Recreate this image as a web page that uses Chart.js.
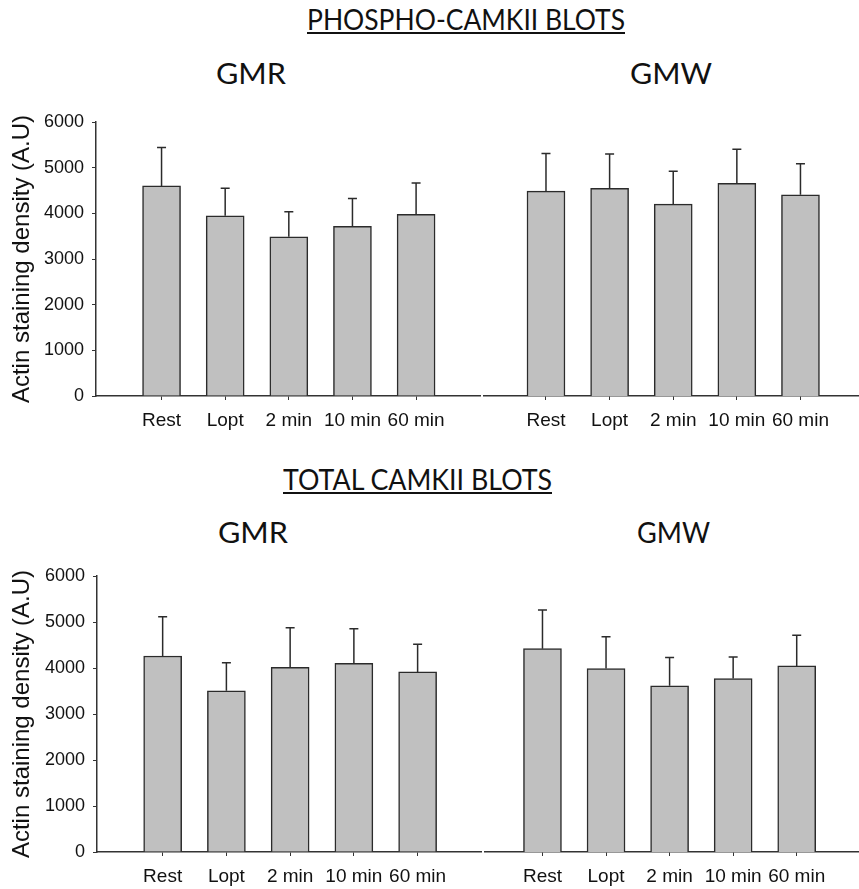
<!DOCTYPE html>
<html>
<head>
<meta charset="utf-8">
<script src="https://cdn.jsdelivr.net/npm/chart.js@4.4.1/dist/chart.umd.min.js"></script>
<style>
  html, body { margin:0; padding:0; background:#fff; width:859px; height:889px; overflow:hidden; }
  .box { position:absolute; }
  .ttl { position:absolute; white-space:nowrap; font-family:Lato, 'Open Sans', sans-serif; color:#111;
         line-height:1; transform-origin:0 0; }
  .ul { text-decoration:underline; text-decoration-thickness:2px; text-underline-offset:2px; }
</style>
</head>
<body>
<div class="ttl ul" data-w="318" style="left:307px;top:5px;font-size:28px">PHOSPHO-CAMKII BLOTS</div>
<div class="ttl" data-w="70" style="left:216px;top:58px;font-size:29px">GMR</div>
<div class="ttl" data-w="82" style="left:630px;top:58px;font-size:29px">GMW</div>
<div class="ttl ul" data-w="269" style="left:283px;top:465px;font-size:28px">TOTAL CAMKII BLOTS</div>
<div class="ttl" data-w="70" style="left:218px;top:517px;font-size:29px">GMR</div>
<div class="ttl" data-w="73" style="left:637px;top:517px;font-size:29px">GMW</div>

<div class="box" style="left:0;top:100px"><canvas id="phosGMR" width="481" height="336"></canvas></div>
<div class="box" style="left:483px;top:100px"><canvas id="phosGMW" width="376" height="336"></canvas></div>
<div class="box" style="left:0;top:554px"><canvas id="totGMR" width="482" height="335"></canvas></div>
<div class="box" style="left:484px;top:554px"><canvas id="totGMW" width="375" height="335"></canvas></div>

<script>
// categories and values (mean and upper SEM)
const categories = ['Rest', 'Lopt', '2 min', '10 min', '60 min'];
const yTicks = [0, 1000, 2000, 3000, 4000, 5000, 6000];

const phosGMR = [4600, 3945, 3485, 3715, 3980];
const phosGMRsem = [840, 605, 550, 610, 685];
const phosGMW = [4485, 4550, 4200, 4655, 4405];
const phosGMWsem = [825, 750, 720, 750, 680];

const totGMR = [4260, 3505, 4015, 4100, 3915];
const totGMRsem = [855, 610, 860, 755, 600];
const totGMW = [4420, 3990, 3615, 3770, 4045];
const totGMWsem = [840, 690, 615, 470, 665];

// fit the headings to the width they have in the figure
document.querySelectorAll('.ttl').forEach(el => {
  const w = el.getBoundingClientRect().width;
  el.style.transform = 'scaleX(' + (Number(el.dataset.w) / w) + ')';
});

// upper error bars with a small cap
const errorBars = {
  id: 'errorBars',
  afterDatasetsDraw(chart) {
    const ctx = chart.ctx;
    const y = chart.scales.y;
    chart.data.datasets.forEach((ds, di) => {
      chart.getDatasetMeta(di).data.forEach((bar, i) => {
        const top = y.getPixelForValue(ds.data[i].y + ds.sem[i]);
        ctx.save();
        ctx.strokeStyle = '#2b2b2b';
        ctx.lineWidth = 1.5;
        ctx.beginPath();
        ctx.moveTo(bar.x, bar.y);
        ctx.lineTo(bar.x, top);
        ctx.moveTo(bar.x - 4.5, top);
        ctx.lineTo(bar.x + 4.5, top);
        ctx.stroke();
        ctx.restore();
      });
    });
  }
};

function makeChart(id, values, sem, opt) {
  const ctx = document.getElementById(id).getContext('2d');
  return new Chart(ctx, {
    type: 'bar',
    data: {
      datasets: [{
        data: values.map((v, i) => ({ x: i, y: v })),
        sem: sem,
        backgroundColor: '#c0c0c0',
        borderColor: '#2b2b2b',
        borderWidth: 1.5,
        barThickness: 38
      }]
    },
    options: {
      responsive: false,
      animation: false,
      layout: { padding: { top: 22, left: 0, right: 0, bottom: 0 } },
      plugins: { legend: { display: false }, tooltip: { enabled: false } },
      scales: {
        x: {
          type: 'linear',
          offset: false,
          min: opt.xMin,
          max: opt.xMax,
          afterBuildTicks: s => { s.ticks = categories.map((c, i) => ({ value: i })); },
          afterFit: s => { s.height = opt.xH; },
          ticks: {
            callback: v => categories[v],
            autoSkip: false, maxRotation: 0, minRotation: 0,
            padding: 9, color: '#111',
            font: { family: "'Liberation Sans', Arial", size: 19 }
          },
          grid: { offset: false, drawOnChartArea: false, drawTicks: true, tickLength: 4, color: '#333' },
          border: { color: '#333', width: 1.5 }
        },
        y: {
          display: opt.showY,
          min: 0,
          max: 6000,
          afterBuildTicks: s => { s.ticks = yTicks.map(v => ({ value: v })); },
          afterFit: s => { s.width = opt.yW; },
          ticks: {
            callback: v => String(v),
            padding: 8, color: '#111',
            font: { family: "'Liberation Sans', Arial", size: 18 }
          },
          grid: { drawOnChartArea: false, drawTicks: true, tickLength: 4, color: '#333' },
          border: { color: '#333', width: 1.5 },
          title: {
            display: true,
            text: 'Actin staining density (A.U)',
            color: '#111',
            padding: { top: 8, bottom: 0 },
            font: { family: "'Liberation Sans', Arial", size: 24 }
          }
        }
      }
    },
    plugins: [errorBars]
  });
}

makeChart('phosGMR', phosGMR, phosGMRsem, { showY: true, yW: 96, xH: 40, xMin: -1.03, xMax: 5.02 });
makeChart('phosGMW', phosGMW, phosGMWsem, { showY: false, yW: 0, xH: 40, xMin: -0.99, xMax: 4.92 });
makeChart('totGMR', totGMR, totGMRsem, { showY: true, yW: 97, xH: 37, xMin: -1.03, xMax: 5.01 });
makeChart('totGMW', totGMW, totGMWsem, { showY: false, yW: 0, xH: 37, xMin: -0.92, xMax: 4.98 });
</script>
</body>
</html>
